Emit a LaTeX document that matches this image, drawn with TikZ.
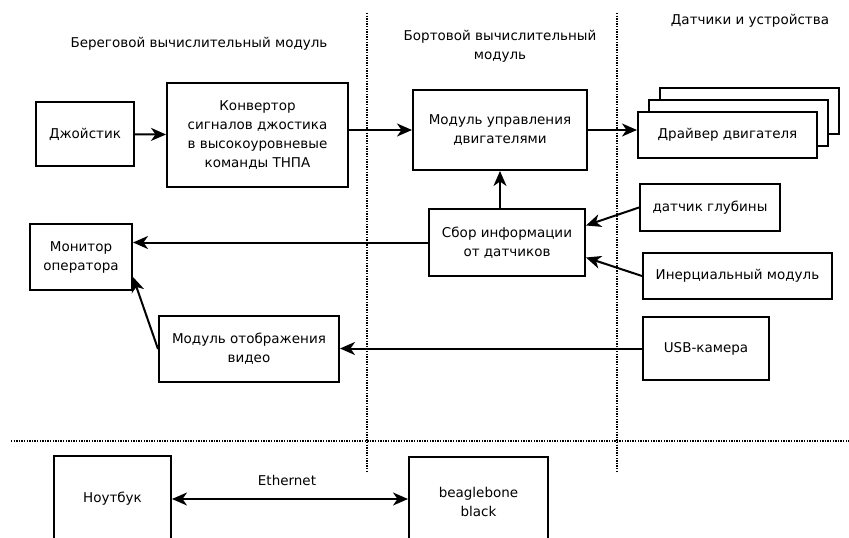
\documentclass[tikz,border=0pt]{standalone}
\usepackage{fontspec}
\setmainfont{DejaVu Sans}
\usetikzlibrary{arrows.meta}
\begin{document}
\begin{tikzpicture}[x=1pt,y=-1pt,
    >={Stealth[length=15pt,width=13pt,inset=4.5pt]},
    every node/.style={font=\fontsize{13.5}{19}\selectfont, align=center},
    box/.style={draw=black, line width=2pt, fill=white, inner sep=0pt},
    arr/.style={line width=2pt, ->},
    sep/.style={line width=1.3pt, dash pattern=on 1.3pt off 1.3pt}]
    \useasboundingbox (0,0) rectangle (849,538);
    \clip (0,0) rectangle (849,538);

    % zones
    \draw[sep] (367,13) -- (367,472);
    \draw[sep] (617,13) -- (617,472);
    \draw[sep] (11,441) -- (849,441);

    \node (shore) 	at (199,44)  {Береговой вычислительный модуль};
    \node (board) 	at (500,46)  {Бортовой вычислительный\\модуль};
    \node (sens) 	at (750,21)  {Датчики и устройства};

    \node (joy)[box, minimum width=98pt, minimum height=64pt] 	at (85,134)    {Джойстик};
    \node (conv)[box, minimum width=181pt, minimum height=104pt] 	at (257.5,135) {Конвертор\\сигналов джостика\\в высокоуровневые\\команды ТНПА};
    \node (motor)[box, minimum width=174pt, minimum height=80pt] 	at (500,130)   {Модуль управления\\двигателями};

    \node (drvB)[box, minimum width=179pt, minimum height=46pt] 	at (749.5,111) {};
    \node (drvA)[box, minimum width=179pt, minimum height=46pt] 	at (738.5,123) {};
    \node (drv)[box, minimum width=179pt, minimum height=46pt] 	at (727.5,135) {Драйвер двигателя};

    \node (sbor)[box, minimum width=156pt, minimum height=67pt] 	at (507,242.5) {Сбор информации\\от датчиков};
    \node (depth)[box, minimum width=140pt, minimum height=47pt] 	at (710,207.5) {датчик глубины};
    \node (imu)[box, minimum width=189pt, minimum height=46pt] 	at (737.5,276) {Инерциальный модуль};

    \node (mon)[box, minimum width=102pt, minimum height=66pt] 	at (81,257)    {Монитор\\оператора};
    \node (vid)[box, minimum width=180pt, minimum height=66pt] 	at (249,349)   {Модуль отображения\\видео};
    \node (usb)[box, minimum width=126pt, minimum height=63pt] 	at (706,348.5) {USB-камера};

    \node (note)[box, minimum width=117pt, minimum height=86pt] 	at (112.5,499) {Ноутбук};
    \node (bbb)[box, minimum width=139pt, minimum height=90pt] 	at (478.5,502) {beaglebone\\black};
    \node (eth) 	at (287,480) {Ethernet};

    \draw[arr] (joy) -- (conv);
    \draw[arr] (conv.east |- motor.west) -- (motor.west);
    \draw[arr] (motor.east) -- (motor.east -| drv.west);
    \draw[arr] (sbor.north -| motor.south) -- (motor.south);
    \draw[arr] (depth.west) -- ([yshift=17pt]sbor.east);
    \draw[arr] (imu.west) -- ([yshift=-15pt]sbor.east);
    \draw[arr] (sbor.west) -- (sbor.west -| mon.east);
    \draw[arr] (usb.west) -- (usb.west -| vid.east);
    \draw[arr] (vid.west) -- ([yshift=-20pt]mon.east);
    \draw[arr, <->] (note.east) -- (note.east -| bbb.west);
  \end{tikzpicture}
\end{document}
